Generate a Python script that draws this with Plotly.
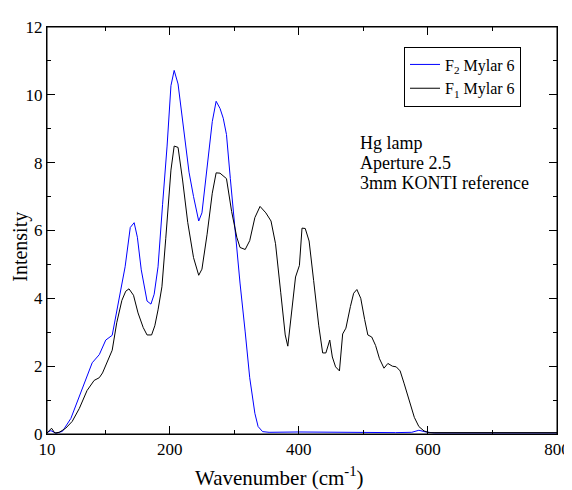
import plotly.graph_objects as go

# F2 Mylar 6 (blue)
wn_f2 = [10, 16, 24, 34, 47, 65, 80, 91, 101, 111, 121, 131, 139, 145, 150, 156, 165, 171,
         176, 182, 189, 196, 202, 207, 213, 220, 230, 237, 245, 250, 258, 266, 272, 278,
         283, 288, 294, 301, 309, 317, 324, 332, 337, 344, 354, 400, 450, 500, 550, 575,
         586, 597, 610, 700, 800]
int_f2 = [0.04, 0.1, 0.02, 0.08, 0.46, 1.38, 2.1, 2.34, 2.77, 2.91, 3.88, 4.93, 6.09, 6.23,
          5.8, 4.84, 3.92, 3.83, 4.12, 4.93, 6.76, 8.49, 10.27, 10.72, 10.32, 9.26, 7.72,
          7.0, 6.28, 6.52, 7.91, 9.21, 9.81, 9.6, 9.31, 8.83, 7.53, 5.99, 4.45, 3.01, 1.66,
          0.61, 0.22, 0.07, 0.05, 0.06, 0.05, 0.04, 0.04, 0.05, 0.11, 0.06, 0.03, 0.03, 0.03]

# F1 Mylar 6 (black)
wn_f1 = [10, 17, 22, 29, 39, 49, 60, 72, 83, 91, 96, 103, 111, 118, 126, 132, 137, 144, 151,
         159, 165, 172, 177, 182, 188, 194, 202, 207, 213, 220, 228, 237, 245, 250, 258, 266,
         272, 278, 288, 296, 304, 309, 317, 324, 332, 340, 349, 357, 364, 372, 379, 383, 389,
         395, 401, 405, 410, 416, 423, 431, 437, 442, 448, 452, 457, 463, 468, 473, 480, 485,
         490, 496, 502, 507, 513, 519, 525, 532, 538, 545, 551, 557, 563, 571, 579, 586, 594,
         602, 700, 800]
int_f1 = [0.03, 0.17, 0.03, 0.05, 0.17, 0.37, 0.75, 1.28, 1.58, 1.66, 1.8, 2.09, 2.47, 3.28,
          3.94, 4.21, 4.28, 4.09, 3.57, 3.14, 2.92, 2.92, 3.19, 3.66, 4.34, 5.77, 7.78, 8.49,
          8.45, 7.49, 6.24, 5.2, 4.68, 4.86, 5.89, 7.1, 7.7, 7.69, 7.53, 6.56, 5.8, 5.5, 5.44,
          5.7, 6.38, 6.71, 6.52, 6.28, 5.61, 4.18, 2.92, 2.59, 3.7, 4.63, 4.97, 6.07, 6.06,
          5.69, 4.53, 3.19, 2.39, 2.39, 2.77, 2.27, 1.98, 1.86, 2.95, 3.12, 3.76, 4.15, 4.26,
          4.0, 3.38, 2.92, 2.86, 2.61, 2.22, 1.94, 2.08, 2.0, 1.98, 1.86, 1.5, 0.97, 0.49,
          0.22, 0.09, 0.04, 0.04, 0.04]

x_ticks = [10, 200, 400, 600, 800]
x_tick_labels = ["10", "200", "400", "600", "800"]
x_minor = [100, 300, 500, 700]

info_lines = ["Hg lamp", "Aperture 2.5", "3mm KONTI reference"]
x_title = "Wavenumber (cm<sup>-1</sup>)"
y_title = "Intensity"

FONT = "Times New Roman, Liberation Serif, serif"

fig = go.Figure()
fig.add_trace(go.Scatter(x=wn_f2, y=int_f2, mode="lines", name="F<sub>2</sub> Mylar 6",
                         line=dict(color="#0000ff", width=1)))
fig.add_trace(go.Scatter(x=wn_f1, y=int_f1, mode="lines", name="F<sub>1</sub> Mylar 6",
                         line=dict(color="#000000", width=1)))

axis_common = dict(showline=True, linecolor="black", linewidth=1, mirror="ticks",
                   ticks="inside", ticklen=8, tickwidth=1, tickcolor="black",
                   showgrid=False, zeroline=False, ticklabeloverflow="allow",
                   tickfont=dict(family=FONT, size=17, color="black"))

fig.update_xaxes(range=[10, 800], tickmode="array", tickvals=x_ticks, ticktext=x_tick_labels,
                 minor=dict(tickmode="array", tickvals=x_minor, ticks="inside", ticklen=4,
                            tickcolor="black"),
                 **axis_common)
fig.update_yaxes(range=[0, 12], dtick=2,
                 minor=dict(dtick=1, ticks="inside", ticklen=4, tickcolor="black"),
                 **axis_common)

# axis titles as annotations for precise placement
fig.add_annotation(x=0.455, y=-0.105, xref="paper", yref="paper", text=x_title,
                   showarrow=False, xanchor="center", yanchor="middle",
                   font=dict(family=FONT, size=21, color="black"))
fig.add_annotation(x=-0.051, y=0.46, xref="paper", yref="paper", text=y_title,
                   showarrow=False, xanchor="center", yanchor="middle", textangle=-90,
                   font=dict(family=FONT, size=20, color="black"))

ys = [0.715, 0.666, 0.616]
for txt, yy in zip(info_lines, ys):
    fig.add_annotation(x=0.61, y=yy, xref="paper", yref="paper", text=txt, showarrow=False,
                       xanchor="left", yanchor="middle",
                       font=dict(family=FONT, size=18, color="black"))

# frame around the plotting area
fig.add_shape(type="rect", xref="paper", yref="paper", x0=0, y0=0, x1=1, y1=1,
              line=dict(color="black", width=1), layer="above")

fig.update_layout(
    width=572, height=490,
    margin=dict(l=39, r=14, t=10, b=64),
    paper_bgcolor="white", plot_bgcolor="white",
    font=dict(family=FONT, color="black"),
    legend=dict(x=0.70, y=0.952, xanchor="left", yanchor="top",
                bordercolor="black", borderwidth=1, bgcolor="white",
                font=dict(family=FONT, size=16, color="black"),
                itemwidth=30, tracegroupgap=0),
    showlegend=True,
)

fig.write_html("out.html")
